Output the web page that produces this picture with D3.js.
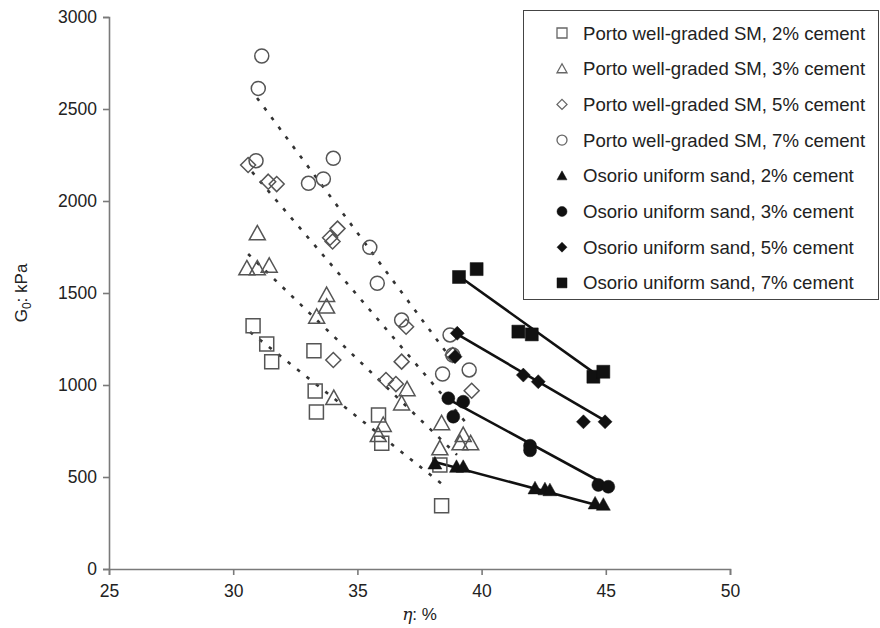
<!doctype html>
<html lang="en">
<head>
<meta charset="utf-8">
<title>G0 versus porosity</title>
<script src="https://cdn.jsdelivr.net/npm/d3@7"></script>
<style>
  body { margin: 0; background: #fff; }
  svg text { font-family: "Liberation Sans", Arial, sans-serif; fill: #222; }
</style>
</head>
<body>
<div id="chart"></div>
<script>
// porosity (%) / G0 (kPa) pairs
const porto2 = [[30.8,1322],[31.35,1223],[31.55,1127],[33.25,1186],[33.3,967],[33.35,853],[35.85,837],[35.98,683],[38.32,565],[38.39,344]];
const porto3 = [[30.97,1824],[30.55,1634],[30.97,1634],[31.45,1648],[33.76,1489],[33.76,1426],[33.36,1371],[34.05,929],[37.0,977],[36.78,900],[36.04,783],[35.84,728],[38.39,792],[38.32,656],[39.26,728],[39.56,683],[39.13,683]];
const porto5 = [[30.6,2196],[31.41,2105],[31.75,2092],[33.9,1800],[34.2,1850],[34.0,1780],[34.03,1136],[36.15,1027],[36.55,1005],[36.96,1317],[36.78,1127],[38.84,1163],[39.6,969]];
const porto7 = [[31.15,2788],[31.01,2612],[30.92,2219],[34.03,2232],[33.03,2096],[33.63,2120],[35.5,1748],[35.8,1553],[36.78,1353],[38.73,1272],[38.84,1163],[38.43,1060],[39.5,1082]];
const osorio2 = [[38.12,574],[38.99,556],[39.26,556],[42.15,439],[42.55,434],[42.75,429],[44.57,357],[44.9,350]];
const osorio3 = [[38.66,928],[39.26,909],[38.86,828],[41.95,670],[41.95,645],[44.7,457],[45.1,447]];
const osorio5 = [[39.02,1281],[38.93,1154],[41.68,1054],[42.28,1018],[44.1,800],[44.97,800]];
const osorio7 = [[39.09,1587],[39.8,1630],[41.48,1290],[42.02,1275],[44.5,1045],[44.9,1072]];

// trend line end points
const portoTrends = [
  [[30.68,1288],[38.45,457]],
  [[30.6,1712],[39.01,620]],
  [[30.76,2158],[39.45,783]],
  [[30.96,2560],[38.57,1179]]
];
const osorioTrends = [
  [[38.12,582],[44.77,342]],
  [[38.73,918],[45.1,451]],
  [[38.93,1283],[45.0,804]],
  [[38.97,1603],[44.77,1043]]
];

const legendLabels = [
  "Porto well-graded SM, 2% cement",
  "Porto well-graded SM, 3% cement",
  "Porto well-graded SM, 5% cement",
  "Porto well-graded SM, 7% cement",
  "Osorio uniform sand, 2% cement",
  "Osorio uniform sand, 3% cement",
  "Osorio uniform sand, 5% cement",
  "Osorio uniform sand, 7% cement"
];
const xTicks = [25, 30, 35, 40, 45, 50];
const yTicks = [0, 500, 1000, 1500, 2000, 2500, 3000];

const W = 880, H = 628;
const margin = {left: 109, right: 150, top: 17, bottom: 59};

const svg = d3.select("#chart").append("svg")
    .attr("width", W).attr("height", H);

const x = d3.scaleLinear().domain([25, 50]).range([margin.left, 730]);
const y = d3.scaleLinear().domain([0, 3000]).range([H - margin.bottom, margin.top]);

function shapePath(kind, s) {
  // s = approximate width in px
  if (kind === "square") return d3.symbol(d3.symbolSquare, s * s)();
  if (kind === "circle") return d3.symbol(d3.symbolCircle, Math.PI * s * s / 4)();
  if (kind === "diamond") {
    const h = s / 2;
    return `M0,${-h}L${h},0L0,${h}L${-h},0Z`;
  }
  const h = s * 0.9;
  return `M0,${-h * 0.55}L${s / 2},${h * 0.45}L${-s / 2},${h * 0.45}Z`;
}

const series = [
  {data: porto2, shape: "square", open: true, size: 14},
  {data: porto3, shape: "triangle", open: true, size: 16},
  {data: porto5, shape: "diamond", open: true, size: 15},
  {data: porto7, shape: "circle", open: true, size: 14},
  {data: osorio2, shape: "triangle", open: false, size: 14},
  {data: osorio3, shape: "circle", open: false, size: 13},
  {data: osorio5, shape: "diamond", open: false, size: 14},
  {data: osorio7, shape: "square", open: false, size: 13}
];

// axes
const xAxis = svg.append("g")
    .attr("transform", `translate(0,${y(0)})`)
    .call(d3.axisBottom(x).tickValues(xTicks).tickSize(6).tickPadding(10));
const yAxis = svg.append("g")
    .attr("transform", `translate(${x(25)},0)`)
    .call(d3.axisLeft(y).tickValues(yTicks).tickFormat(d3.format("d")).tickSize(6).tickPadding(6));
[xAxis, yAxis].forEach(g => {
  g.selectAll("path, line").attr("stroke", "#7a7a7a").attr("stroke-width", 1.6);
  g.selectAll("text").style("font-size", "17.5px").attr("fill", "#222");
});

// trend lines
const line = d3.line().x(d => x(d[0])).y(d => y(d[1]));
svg.append("g").selectAll("path").data(portoTrends).join("path")
    .attr("d", line)
    .attr("fill", "none")
    .attr("stroke", "#333")
    .attr("stroke-width", 2.6)
    .attr("stroke-dasharray", "3.5,8.5");
svg.append("g").selectAll("path").data(osorioTrends).join("path")
    .attr("d", line)
    .attr("fill", "none")
    .attr("stroke", "#111")
    .attr("stroke-width", 2.6);

// markers
series.forEach(s => {
  svg.append("g").selectAll("path").data(s.data).join("path")
      .attr("transform", d => `translate(${x(d[0])},${y(d[1])})`)
      .attr("d", shapePath(s.shape, s.size))
      .attr("fill", s.open ? "none" : "#111")
      .attr("stroke", s.open ? "#555" : "#111")
      .attr("stroke-width", s.open ? 1.5 : 0.5);
});

// axis titles
svg.append("text")
    .attr("x", (x(25) + x(50)) / 2).attr("y", 620)
    .attr("text-anchor", "middle")
    .style("font-size", "17px")
    .html('<tspan font-family="DejaVu Serif, serif" font-style="italic">η</tspan>: %');
svg.append("text")
    .attr("transform", `translate(27,${(y(0) + y(3000)) / 2}) rotate(-90)`)
    .attr("text-anchor", "middle")
    .style("font-size", "17px")
    .html('G<tspan dy="4" font-size="12px">0</tspan><tspan dy="-4">: kPa</tspan>');

// legend
const leg = svg.append("g");
leg.append("rect")
    .attr("x", 523.5).attr("y", 10.5)
    .attr("width", 355).attr("height", 289)
    .attr("fill", "#fff")
    .attr("stroke", "#444");
const rows = leg.selectAll("g.row").data(legendLabels).join("g")
    .attr("class", "row")
    .attr("transform", (d, i) => `translate(562,${33 + i * 35.7})`);
rows.append("path")
    .attr("d", (d, i) => shapePath(series[i].shape, 10))
    .attr("fill", (d, i) => series[i].open ? "none" : "#111")
    .attr("stroke", (d, i) => series[i].open ? "#666" : "#111")
    .attr("stroke-width", (d, i) => series[i].open ? 1.3 : 0.5);
rows.append("text")
    .attr("x", 21).attr("dy", "0.35em")
    .style("font-size", "18.6px")
    .text(d => d);
</script>
</body>
</html>
